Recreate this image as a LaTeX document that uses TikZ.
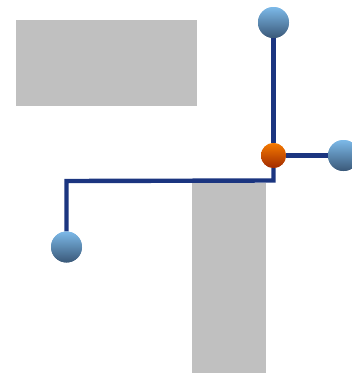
\documentclass[tikz,border=0pt]{standalone}
\begin{document}
\begin{tikzpicture}[x=1pt,y=-1pt,
  block/.style={fill=blockgray,draw=none},
  pipe/.style={draw=pipeblue,line width=4.4pt,line join=miter},
  bluenode/.style={circle,minimum size=31pt,inner sep=0pt,
    top color=ballhi,bottom color=balllo,draw=none},
  hubnode/.style={circle,minimum size=25pt,inner sep=0pt,
    top color=hubhi,bottom color=hublo,draw=none}]
\definecolor{blockgray}{HTML}{C0C0C0}
\definecolor{pipeblue}{HTML}{1B3580}
\definecolor{ballhi}{HTML}{7CB9E8}
\definecolor{balllo}{HTML}{3A5878}
\definecolor{hubhi}{HTML}{F57A00}
\definecolor{hublo}{HTML}{A02A00}
\useasboundingbox (0,0) rectangle (352,373);
% grey blocks
\fill[block] (16,20) rectangle (197,106);
\fill[block] (192,183) rectangle (266,373);
% node positions
\node[hubnode] (hub) at (273.5,155.5) {};
\node[bluenode] (top) at (273.5,22.5) {};
\node[bluenode] (right) at (343.5,155.5) {};
\node[bluenode] (left) at (66.5,247) {};
\coordinate (c1) at (273.5,180.5);
\coordinate (c2) at (66.5,181);
% connectors
\draw[pipe] (top.south) -- (hub.north);
\draw[pipe] (hub.east) -- (right.west);
\draw[pipe] (hub.south) -- (c1) -- (c2) -- (left.north);
% redraw the balls above the pipe ends
\node[hubnode] at (hub) {};
\node[bluenode] at (top) {};
\node[bluenode] at (right) {};
\node[bluenode] at (left) {};
\end{tikzpicture}
\end{document}
